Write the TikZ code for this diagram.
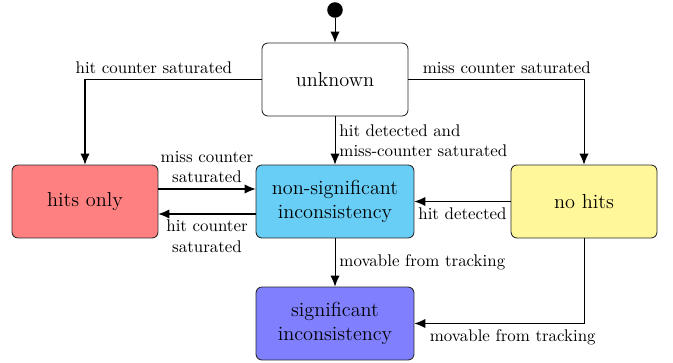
\documentclass[tikz,border=0pt]{standalone}
\usetikzlibrary{arrows.meta}
\definecolor{hitsred}{RGB}{255,128,128}
\definecolor{nscyan}{RGB}{104,206,245}
\definecolor{nhyellow}{RGB}{255,247,153}
\definecolor{sigblue}{RGB}{128,128,255}
\begin{document}
\begin{tikzpicture}[x=0.592pt,y=-0.592pt,
  state/.style={draw=black!85,rounded corners=3.5pt,align=center,font=\large,
    minimum height=43.2pt,inner sep=2pt,line width=0.5pt},
  trans/.style={-{Latex[length=6.5pt,width=5.5pt]},line width=0.6pt,black},
  lbl/.style={font=\normalsize,align=center}]
\useasboundingbox (0,0) rectangle (673,362);

\node[circle,fill=black,inner sep=0pt,minimum size=9.2pt] (init) at (335,10) {};
\node[state,minimum width=86.4pt] (unk) at (335,79.5) {unknown};
\node[state,fill=hitsred,minimum width=86.4pt] (hits) at (85,201.5) {hits only};
\node[state,fill=nscyan,minimum width=93.5pt] (ns) at (335,201.5) {non-significant\\inconsistency};
\node[state,fill=nhyellow,minimum width=86.4pt] (nohits) at (584,201.5) {no hits};
\node[state,fill=sigblue,minimum width=93.5pt] (sig) at (335,323.5) {significant\\inconsistency};

\draw[trans] (init) -- (unk);
\draw[trans] (unk.west) -| node[lbl,above,pos=0.305] {hit counter saturated} (hits.north);
\draw[trans] (unk.east) -| node[lbl,above,pos=0.28] {miss counter saturated} (nohits.north);
\draw[trans] (unk.south) -- node[lbl,right,align=left,xshift=-1pt] {hit detected and\\miss-counter saturated} (ns.north);
\draw[trans] ([yshift=7.4pt]hits.east) -- node[lbl,above] {miss counter\\saturated} ([yshift=7.4pt]ns.west);
\draw[trans] ([yshift=-7.4pt]ns.west) -- node[lbl,below] {hit counter\\saturated} ([yshift=-7.4pt]hits.east);
\draw[trans] (nohits.west) -- node[lbl,below] {hit detected} (ns.east);
\draw[trans] (ns.south) -- node[lbl,right,xshift=-1pt] {movable from tracking} (sig.north);
\draw[trans] (nohits.south) |- node[lbl,below,pos=0.71] {movable from tracking} (sig.east);
\end{tikzpicture}
\end{document}
